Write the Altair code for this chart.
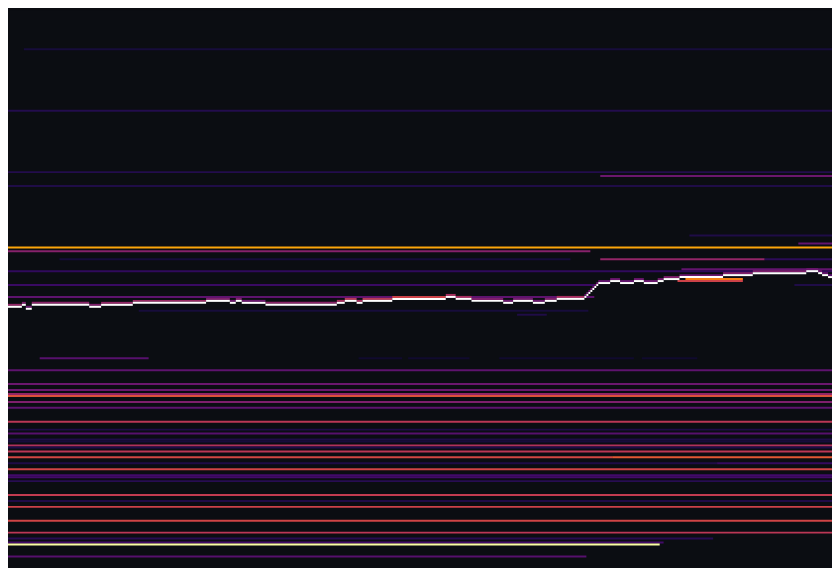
import altair as alt
import pandas as pd

BG = "#0b0d12"

# Resting liquidity bands: price level (ticks), start / end (time buckets), intensity (0..1)
band_level = [260, 229, 198, 196, 191, 166, 162, 160, 158,
              154, 154, 154, 148, 149, 141, 141, 135, 128, 126,
              104, 104, 104, 104, 104,
              98, 91, 88, 86, 85, 82, 79, 72, 68, 66, 63, 62, 60, 59, 57,
              54, 54, 51, 51, 48, 45, 44, 42, 35, 32, 29, 22, 16, 13, 11, 10, 4,
              144, 143]
band_start = [12, 0, 0, 303, 0, 348, 403, 0, 0,
              30, 303, 386, 0, 344, 0, 401, 0, 70, 261,
              20, 181, 206, 252, 324,
              0, 0, 0, 0, 0, 0, 0, 0, 0, 0, 0, 0, 0, 0, 0,
              0, 309, 0, 362, 0, 0, 0, 0, 0, 0, 0, 0, 0, 0, 0, 0, 0,
              346, 342]
band_end = [420, 420, 420, 420, 420, 420, 420, 420, 298,
            288, 386, 420, 420, 420, 300, 420, 300, 297, 276,
            75, 203, 237, 320, 352,
            420, 420, 420, 420, 420, 420, 420, 420, 420, 420, 420, 420, 420, 420, 420,
            309, 420, 362, 420, 420, 420, 420, 420, 420, 420, 420, 420, 420, 360, 335, 333, 296,
            375, 375]
band_value = [0.10, 0.13, 0.13, 0.30, 0.12, 0.12, 0.28, 0.80, 0.37,
              0.10, 0.40, 0.15, 0.16, 0.28, 0.18, 0.12, 0.27, 0.10, 0.12,
              0.25, 0.08, 0.08, 0.08, 0.08,
              0.27, 0.30, 0.30, 0.40, 0.60, 0.35, 0.27, 0.50, 0.12, 0.25, 0.12, 0.10, 0.47, 0.12, 0.50,
              0.57, 0.62, 0.12, 0.17, 0.56, 0.20, 0.20, 0.14, 0.52, 0.12, 0.55, 0.56, 0.50, 0.14, 0.20, 1.00, 0.25,
              0.72, 0.55]

# Traded price: step starts (time buckets) and price level (ticks); glow intensity just above it
price_start = [0, 11, 13, 16, 45, 51, 67, 104, 116, 119, 122, 134, 170, 174, 180, 183,
               198, 225, 230, 238, 254, 259, 269, 275, 281, 295, 296, 297, 298, 299, 300, 301,
               302, 308, 313, 320, 325, 332, 335, 343, 365, 380, 407, 413, 415, 418]
price_level = [130, 131, 129, 131, 130, 131, 132, 133, 132, 133, 132, 131, 132, 133, 132, 133,
               134, 135, 134, 133, 132, 133, 132, 133, 134, 135, 136, 137, 138, 139, 140, 141,
               142, 143, 142, 143, 142, 143, 144, 145, 146, 147, 148, 147, 146, 145]
price_glow = [0.40, 0.35, 0.30, 0.38, 0.35, 0.40, 0.42, 0.35, 0.30, 0.35, 0.30, 0.38, 0.45, 0.50, 0.45, 0.50,
              0.55, 0.45, 0.45, 0.35, 0.30, 0.32, 0.30, 0.35, 0.45, 0.30, 0.30, 0.30, 0.30, 0.30, 0.30, 0.30,
              0.28, 0.30, 0.28, 0.30, 0.30, 0.32, 0.35, 0.30, 0.35, 0.35, 0.30, 0.30, 0.28, 0.25]
END_T = 420

bands = pd.DataFrame({"level": band_level, "t0": band_start, "t1": band_end, "v": band_value})
bands["level2"] = bands["level"] + 1

price_end = price_start[1:] + [END_T]
price = pd.DataFrame({"level": price_level, "t0": price_start, "t1": price_end, "v": price_glow})
price["level2"] = price["level"] + 1
glow = price.copy()
glow["level"] = glow["level"] + 1
glow["level2"] = glow["level"] + 1

heat = pd.concat([bands, glow], ignore_index=True)

xs = alt.Scale(domain=[4, 420], nice=False, zero=False)
ys = alt.Scale(domain=[0, 280], nice=False, zero=False)

heat_layer = alt.Chart(heat).mark_rect(clip=True).encode(
    x=alt.X("t0:Q", scale=xs, axis=None),
    x2="t1",
    y=alt.Y("level:Q", scale=ys, axis=None),
    y2="level2",
    color=alt.Color("v:Q", scale=alt.Scale(scheme="inferno", domain=[0, 1]), legend=None),
)

price_layer = alt.Chart(price).mark_rect(clip=True, color="#ffffff").encode(
    x=alt.X("t0:Q", scale=xs, axis=None),
    x2="t1",
    y=alt.Y("level:Q", scale=ys, axis=None),
    y2="level2",
)

chart = alt.layer(heat_layer, price_layer).properties(
    width=832, height=560, background=BG, padding=0
).configure_view(stroke=None, fill=BG)

chart.save("out.html", embed_options={"renderer": "svg", "actions": False})
